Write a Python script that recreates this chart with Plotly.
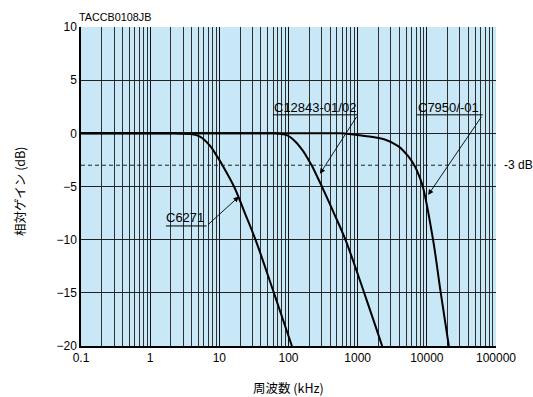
import numpy as np
import plotly.graph_objects as go

# ---- data ----
c6271_f = [0.1, 1.2, 2.28, 3.76, 5.25, 7.31, 9.14, 11.1, 16.3, 23.4, 33.3, 61.5, 112]
c6271_g = [0, 0, 0, -0.06, -0.3, -1.15, -2.1, -3.0, -5, -7.5, -10, -15, -20]

c12843_f = [0.1, 35, 63.5, 94, 124, 163, 193, 218, 257, 304, 453, 665, 1242, 2260]
c12843_g = [0, 0, 0, -0.17, -0.74, -1.68, -2.46, -3.05, -4.0, -5.0, -7.5, -10, -15, -20]

c7950_f = [0.1, 300, 553, 1270, 2470, 3850, 5370, 6710, 7930, 8850, 12300, 15900, 20800]
c7950_g = [0, 0, 0, -0.25, -0.58, -1.2, -2.15, -3.09, -4.19, -5.13, -10, -15, -20]

x_ticks = [0.1, 1, 10, 100, 1000, 10000, 100000]
x_tick_labels = ["0.1", "1", "10", "100", "1000", "10000", "100000"]
y_ticks = [10, 5, 0, -5, -10, -15, -20]

BG = "#c8e8f8"
FONT = "Liberation Sans, Arial, Helvetica, sans-serif"
JFONT = "Noto Sans CJK JP, Liberation Sans, sans-serif"

fig = go.Figure()
for f, g in [(c6271_f, c6271_g), (c12843_f, c12843_g), (c7950_f, c7950_g)]:
    fig.add_trace(go.Scatter(x=f, y=g, mode="lines",
                             line=dict(color="black", width=2, shape="spline", smoothing=1.0),
                             showlegend=False, hoverinfo="skip"))

# -3 dB dashed reference line
fig.add_shape(type="line", xref="x", yref="y", x0=0.1, x1=100000, y0=-3, y1=-3,
              line=dict(color="#222", width=1, dash="4px,3px"))

# labels with underline + leader arrows
labels = [
    # text, text center (log10 f, dB), underline (f0, f1, dB), arrow tail (log f, dB), tip (log f, dB)
    ("C6271", 0.503, -7.9, 1.69, 6.55, -8.71, 0.816, -8.71, 1.283, -5.95),
    ("C12843-01/02", 2.389, 2.45, 59.6, 1007, 1.74, 3.003, 1.74, 2.454, -3.81),
    ("C7950/-01", 4.313, 2.45, 7160, 64400, 1.74, 4.809, 1.74, 4.019, -5.79),
]
for txt, tx, ty, u0, u1, uy, ax, ay, hx, hy in labels:
    fig.add_annotation(x=tx, y=ty, xref="x", yref="y", text=txt, showarrow=False,
                       font=dict(family=FONT, size=13, color="black"),
                       xanchor="center", yanchor="middle")
    fig.add_shape(type="line", xref="x", yref="y", x0=u0, x1=u1, y0=uy, y1=uy,
                  line=dict(color="black", width=1))
    fig.add_annotation(x=hx, y=hy, xref="x", yref="y", ax=ax, ay=ay, axref="x", ayref="y",
                       text=" ", font=dict(size=1), showarrow=True, arrowhead=2,
                       arrowsize=1.2, arrowwidth=0.9, arrowcolor="black", standoff=0, startstandoff=0)

fig.add_annotation(x=1, y=-3, xref="paper", yref="y", text="-3 dB", showarrow=False,
                   xanchor="left", yanchor="middle", xshift=6,
                   font=dict(family=FONT, size=12, color="black"))
fig.add_annotation(x=0, y=1, xref="paper", yref="paper", text="TACCB0108JB", showarrow=False,
                   xanchor="left", yanchor="bottom", xshift=-4, yshift=2,
                   font=dict(family=FONT, size=10.8, color="black"))
fig.add_annotation(x=0.5, y=0, xref="paper", yref="paper", text="周波数 (kHz)", showarrow=False,
                   xanchor="center", yanchor="middle", yshift=-41,
                   font=dict(family=JFONT, size=12.5, color="black"))
fig.add_annotation(x=0, y=0.483, xref="paper", yref="paper", text="相対ゲイン (dB)", showarrow=False,
                   xanchor="center", yanchor="middle", xshift=-61, textangle=-90,
                   font=dict(family=JFONT, size=12.5, color="black"))

fig.update_xaxes(type="log", range=[-1, 5], tickvals=x_ticks, ticktext=x_tick_labels,
                 showgrid=True, gridcolor="#111111", gridwidth=1.3,
                 minor=dict(showgrid=True, gridcolor="#2e2e2e", gridwidth=1.2, dtick="D1", ticks=""),
                 showline=True, linecolor="black", linewidth=1.5, mirror=False,
                 ticks="", tickfont=dict(family=FONT, size=12, color="black"), zeroline=False)
fig.update_yaxes(range=[-20, 10], tickvals=y_ticks, showgrid=True, gridcolor="#222222", gridwidth=1.1,
                 showline=True, linecolor="black", linewidth=1.5, mirror=False,
                 ticks="", tickfont=dict(family=FONT, size=12, color="black"), zeroline=False)

fig.update_layout(width=533, height=397, margin=dict(l=81, r=37, t=27, b=51),
                  plot_bgcolor=BG, paper_bgcolor="white")

fig.write_html("out.html")
